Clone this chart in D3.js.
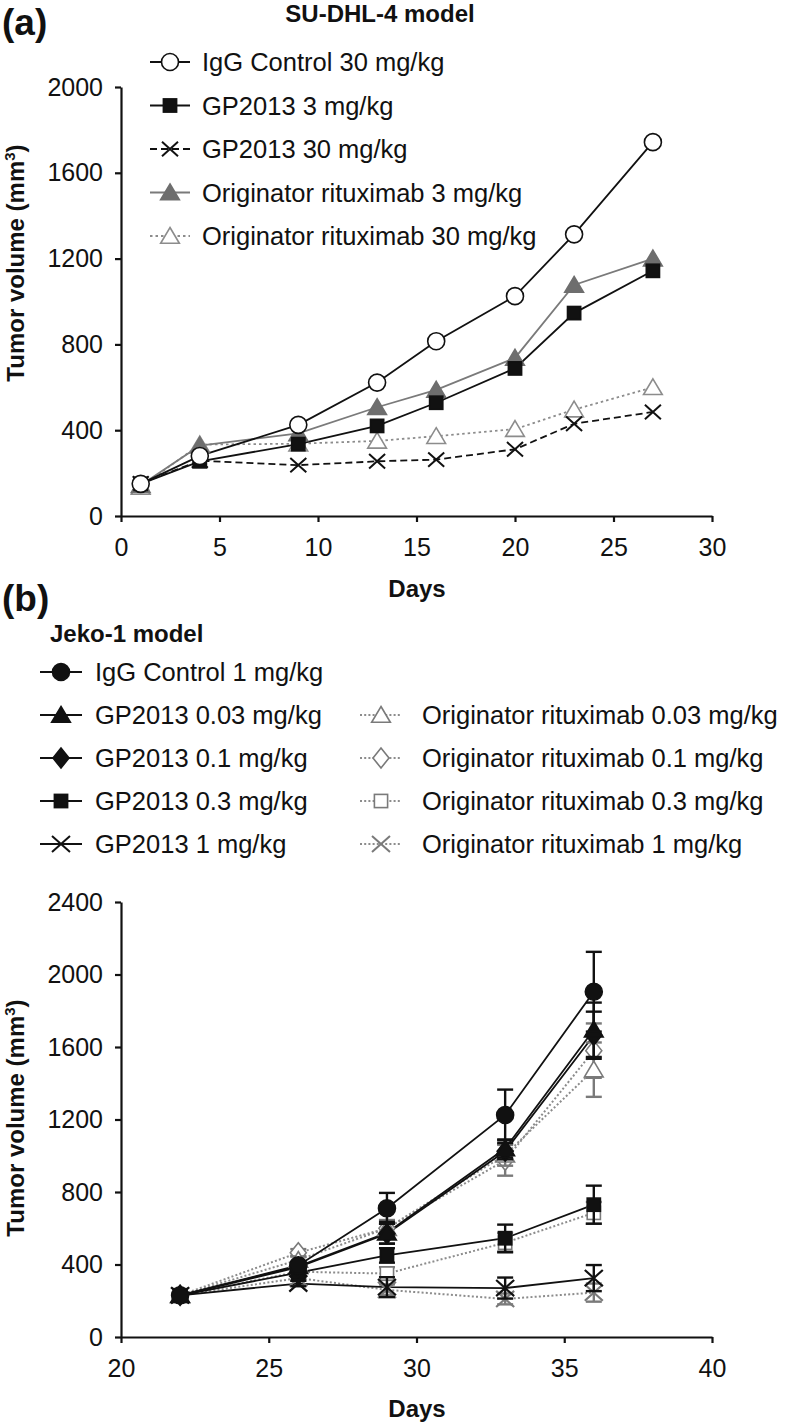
<!DOCTYPE html>
<html><head><meta charset="utf-8">
<script src="https://cdn.jsdelivr.net/npm/d3@7"></script>
<style>
body{margin:0;background:#fff}
text{font-family:"Liberation Sans",Arial,Helvetica,sans-serif;fill:#111}
</style>
</head><body>
<svg id="c" width="787" height="1426" xmlns="http://www.w3.org/2000/svg"></svg>
<script>
// ---------- Panel (a) data: SU-DHL-4 model ----------
const topDays = [1, 4, 9, 13, 16, 20, 23, 27];
const topIgG30 = [150, 280, 425, 622, 815, 1025, 1313, 1743];
const topGP3 = [150, 255, 335, 420, 528, 688, 946, 1143];
const topGP30 = [152, 258, 237, 255, 263, 311, 430, 485];
const topOrig3 = [143, 328, 385, 507, 588, 737, 1077, 1200];
const topOrig30 = [135, 333, 337, 350, 372, 405, 496, 600];
const topYTicks = [0, 400, 800, 1200, 1600, 2000];
const topXTicks = [0, 5, 10, 15, 20, 25, 30];

// ---------- Panel (b) data: Jeko-1 model ----------
const botDays = [22, 26, 29, 33, 36];
const botIgG1 = [230, 395, 710, 1225, 1905];
const botIgG1Err = [10, 20, 85, 140, 220];
const botGP003 = [230, 390, 575, 1040, 1695];
const botGP003Err = [10, 20, 60, 50, 150];
const botGP01 = [230, 385, 570, 1025, 1665];
const botGP01Err = [10, 20, 55, 45, 130];
const botGP03 = [230, 355, 450, 545, 730];
const botGP03Err = [10, 15, 40, 75, 105];
const botGP1 = [230, 295, 275, 270, 325];
const botGP1Err = [10, 15, 55, 58, 72];
const botOrig003 = [230, 425, 600, 1005, 1475];
const botOrig003Err = [10, 20, 45, 60, 150];
const botOrig01 = [230, 465, 600, 975, 1580];
const botOrig01Err = [10, 20, 45, 85, 150];
const botOrig03 = [230, 360, 350, 520, 685];
const botOrig03Err = [10, 20, 35, 55, 60];
const botOrig1 = [230, 325, 260, 210, 245];
const botOrig1Err = [10, 15, 30, 30, 50];
const botYTicks = [0, 400, 800, 1200, 1600, 2000, 2400];
const botXTicks = [20, 25, 30, 35, 40];

const BLACK = "#111", GRAY = "#7a7a7a", LGRAY = "#8c8c8c";
const FS = 25.5;
const fmt = d3.format("d");

const svg = d3.select("#c");

// ---------- marker helper ----------
function marker(g, kind, x, y, st) {
  const fill = st.fill, stroke = st.stroke, sw = st.sw || 1.6, s = st.size || 8;
  let el;
  if (kind === "circle") {
    el = g.append("circle").attr("cx", x).attr("cy", y).attr("r", s);
  } else if (kind === "square") {
    el = g.append("rect").attr("x", x - s * 0.88).attr("y", y - s * 0.88).attr("width", s * 1.76).attr("height", s * 1.76);
  } else if (kind === "triangle") {
    el = g.append("path").attr("d", `M${x},${y - s}L${x + s * 1.1},${y + s * 0.85}L${x - s * 1.1},${y + s * 0.85}Z`);
  } else if (kind === "diamond") {
    el = g.append("path").attr("d", `M${x},${y - s * 1.25}L${x + s},${y}L${x},${y + s * 1.25}L${x - s},${y}Z`);
  } else if (kind === "x") {
    el = g.append("path").attr("d", `M${x - s},${y - s * 0.9}L${x + s},${y + s * 0.9}M${x + s},${y - s * 0.9}L${x - s},${y + s * 0.9}`);
    el.attr("fill", "none").attr("stroke", stroke).attr("stroke-width", st.xw || 2);
    return;
  }
  el.attr("fill", fill).attr("stroke", stroke).attr("stroke-width", sw);
}

function styleAxis(g) {
  g.selectAll("path.domain").attr("stroke", BLACK).attr("stroke-width", 2.2);
  g.selectAll(".tick line").attr("stroke", BLACK).attr("stroke-width", 2.2);
  g.selectAll(".tick text").attr("font-size", FS - 0.5).attr("fill", BLACK)
    .style("font-family", '"Liberation Sans",Arial,sans-serif');
}

// ================= PANEL (a) =================
const xA = d3.scaleLinear().domain([0, 30]).range([121, 712]);
const yA = d3.scaleLinear().domain([0, 2000]).range([516, 87]);

svg.append("text").attr("x", 2).attr("y", 35).attr("font-size", 37).attr("font-weight", "bold").text("(a)");
svg.append("text").attr("x", 380).attr("y", 22).attr("text-anchor", "middle").attr("font-size", 24).attr("font-weight", "bold").text("SU-DHL-4 model");

const gxA = svg.append("g").attr("transform", "translate(0,516)")
  .call(d3.axisBottom(xA).tickValues(topXTicks).tickFormat(fmt).tickSize(6).tickPadding(16).tickSizeOuter(0));
styleAxis(gxA);
const gyA = svg.append("g").attr("transform", "translate(121,0)")
  .call(d3.axisLeft(yA).tickValues(topYTicks).tickFormat(fmt).tickSize(6).tickPadding(12).tickSizeOuter(0));
styleAxis(gyA);

svg.append("text").attr("x", 417).attr("y", 597).attr("text-anchor", "middle").attr("font-size", 24).attr("font-weight", "bold").text("Days");
const ytA = svg.append("text").attr("transform", "translate(24,263) rotate(-90)").attr("text-anchor", "middle").attr("font-size", 24).attr("font-weight", "bold");
ytA.append("tspan").text("Tumor volume (mm");
ytA.append("tspan").attr("font-size", 15).attr("dy", -9).text("3");
ytA.append("tspan").attr("dy", 9).text(")");

const topSeries = [
  { name: "IgG Control 30 mg/kg", vals: topIgG30, color: BLACK, dash: null, kind: "circle", fill: "#fff", mstroke: BLACK, size: 8.5 },
  { name: "GP2013 3 mg/kg", vals: topGP3, color: BLACK, dash: null, kind: "square", fill: BLACK, mstroke: BLACK, size: 7.5 },
  { name: "GP2013 30 mg/kg", vals: topGP30, color: BLACK, dash: "7,4", kind: "x", fill: "none", mstroke: BLACK, size: 8 },
  { name: "Originator rituximab 3 mg/kg", vals: topOrig3, color: GRAY, dash: null, kind: "triangle", fill: "#6e6e6e", mstroke: "#6e6e6e", size: 8.5 },
  { name: "Originator rituximab 30 mg/kg", vals: topOrig30, color: LGRAY, dash: "2.5,3", kind: "triangle", fill: "#fff", mstroke: LGRAY, size: 8.5 }
];
const lineA = d3.line().x(d => xA(d[0])).y(d => yA(d[1]));
const drawOrderA = [4, 2, 3, 1, 0];
drawOrderA.forEach(i => {
  const s = topSeries[i];
  const pts = topDays.map((d, j) => [d, s.vals[j]]);
  svg.append("path").attr("d", lineA(pts)).attr("fill", "none").attr("stroke", s.color)
    .attr("stroke-width", 1.8).attr("stroke-dasharray", s.dash);
});
drawOrderA.forEach(i => {
  const s = topSeries[i];
  const g = svg.append("g");
  topDays.forEach((d, j) => marker(g, s.kind, xA(d), yA(s.vals[j]), { fill: s.fill, stroke: s.mstroke, size: s.size, sw: 1.6 }));
});

// legend (a)
const legARows = [62, 105.5, 149, 192.5, 236];
topSeries.forEach((s, i) => {
  const y = legARows[i];
  const g = svg.append("g");
  g.append("line").attr("x1", 150).attr("x2", 190).attr("y1", y).attr("y2", y)
    .attr("stroke", s.color).attr("stroke-width", 1.8).attr("stroke-dasharray", s.dash);
  marker(g, s.kind, 170, y, { fill: s.fill, stroke: s.mstroke, size: s.size, sw: 1.6 });
  g.append("text").attr("x", 202).attr("y", y).attr("dy", "0.36em").attr("font-size", FS).text(s.name);
});

// ================= PANEL (b) =================
const xB = d3.scaleLinear().domain([20, 40]).range([121, 712]);
const yB = d3.scaleLinear().domain([0, 2400]).range([1337, 902]);

svg.append("text").attr("x", 2).attr("y", 611).attr("font-size", 37).attr("font-weight", "bold").text("(b)");
svg.append("text").attr("x", 50).attr("y", 633).attr("dy", "0.36em").attr("font-size", 24).attr("font-weight", "bold").text("Jeko-1 model");

const gxB = svg.append("g").attr("transform", "translate(0,1337)")
  .call(d3.axisBottom(xB).tickValues(botXTicks).tickFormat(fmt).tickSize(6).tickPadding(16).tickSizeOuter(0));
styleAxis(gxB);
const gyB = svg.append("g").attr("transform", "translate(121,0)")
  .call(d3.axisLeft(yB).tickValues(botYTicks).tickFormat(fmt).tickSize(6).tickPadding(12).tickSizeOuter(0));
styleAxis(gyB);

svg.append("text").attr("x", 417).attr("y", 1417).attr("text-anchor", "middle").attr("font-size", 24).attr("font-weight", "bold").text("Days");
const ytB = svg.append("text").attr("transform", "translate(24,1118) rotate(-90)").attr("text-anchor", "middle").attr("font-size", 24).attr("font-weight", "bold");
ytB.append("tspan").text("Tumor volume (mm");
ytB.append("tspan").attr("font-size", 15).attr("dy", -9).text("3");
ytB.append("tspan").attr("dy", 9).text(")");

const botSeries = [
  { name: "IgG Control 1 mg/kg", vals: botIgG1, err: botIgG1Err, color: BLACK, dash: null, kind: "circle", fill: BLACK, mstroke: BLACK, size: 8.5, col: 0, row: 0 },
  { name: "GP2013 0.03 mg/kg", vals: botGP003, err: botGP003Err, color: BLACK, dash: null, kind: "triangle", fill: BLACK, mstroke: BLACK, size: 8.5, col: 0, row: 1 },
  { name: "GP2013 0.1 mg/kg", vals: botGP01, err: botGP01Err, color: BLACK, dash: null, kind: "diamond", fill: BLACK, mstroke: BLACK, size: 8, col: 0, row: 2 },
  { name: "GP2013 0.3 mg/kg", vals: botGP03, err: botGP03Err, color: BLACK, dash: null, kind: "square", fill: BLACK, mstroke: BLACK, size: 7.5, col: 0, row: 3 },
  { name: "GP2013 1 mg/kg", vals: botGP1, err: botGP1Err, color: BLACK, dash: null, kind: "x", fill: "none", mstroke: BLACK, size: 9, col: 0, row: 4 },
  { name: "Originator rituximab 0.03 mg/kg", vals: botOrig003, err: botOrig003Err, color: LGRAY, dash: "2,2.2", kind: "triangle", fill: "#fff", mstroke: GRAY, size: 8.5, col: 1, row: 1 },
  { name: "Originator rituximab 0.1 mg/kg", vals: botOrig01, err: botOrig01Err, color: LGRAY, dash: "2,2.2", kind: "diamond", fill: "#fff", mstroke: GRAY, size: 8, col: 1, row: 2 },
  { name: "Originator rituximab 0.3 mg/kg", vals: botOrig03, err: botOrig03Err, color: LGRAY, dash: "2,2.2", kind: "square", fill: "#fff", mstroke: GRAY, size: 7.5, col: 1, row: 3 },
  { name: "Originator rituximab 1 mg/kg", vals: botOrig1, err: botOrig1Err, color: LGRAY, dash: "2,2.2", kind: "x", fill: "none", mstroke: GRAY, size: 9, col: 1, row: 4 }
];
const lineB = d3.line().x(d => xB(d[0])).y(d => yB(d[1]));
const drawOrderB = [8, 7, 6, 5, 4, 3, 2, 1, 0];
drawOrderB.forEach(i => {
  const s = botSeries[i];
  const pts = botDays.map((d, j) => [d, s.vals[j]]);
  svg.append("path").attr("d", lineB(pts)).attr("fill", "none").attr("stroke", s.color)
    .attr("stroke-width", s.dash ? 2 : 1.8).attr("stroke-dasharray", s.dash);
});
drawOrderB.forEach(i => {
  const s = botSeries[i];
  const g = svg.append("g");
  const ec = s.col === 1 ? GRAY : BLACK;
  botDays.forEach((d, j) => {
    const x = xB(d), y1 = yB(s.vals[j] + s.err[j]), y0 = yB(s.vals[j] - s.err[j]);
    g.append("line").attr("x1", x).attr("x2", x).attr("y1", y1).attr("y2", y0).attr("stroke", ec).attr("stroke-width", 2.4);
    [y1, y0].forEach(yy => g.append("line").attr("x1", x - 8).attr("x2", x + 8).attr("y1", yy).attr("y2", yy).attr("stroke", ec).attr("stroke-width", 2.4));
  });
  botDays.forEach((d, j) => marker(g, s.kind, xB(d), yB(s.vals[j]), { fill: s.fill, stroke: s.mstroke, size: s.size, sw: 1.6, xw: 2.2 }));
});

// legend (b)
const legBRows = [672, 715, 758, 801, 844];
const legBCols = [{ l: 40, r: 82, m: 61, t: 95 }, { l: 360, r: 402, m: 381, t: 422 }];
botSeries.forEach(s => {
  const y = legBRows[s.row], c = legBCols[s.col];
  const g = svg.append("g");
  g.append("line").attr("x1", c.l).attr("x2", c.r).attr("y1", y).attr("y2", y)
    .attr("stroke", s.color).attr("stroke-width", s.dash ? 2 : 1.8).attr("stroke-dasharray", s.dash);
  marker(g, s.kind, c.m, y, { fill: s.fill, stroke: s.mstroke, size: s.size, sw: 1.6, xw: 2 });
  g.append("text").attr("x", c.t).attr("y", y).attr("dy", "0.36em").attr("font-size", FS).text(s.name);
});
</script>
</body></html>
